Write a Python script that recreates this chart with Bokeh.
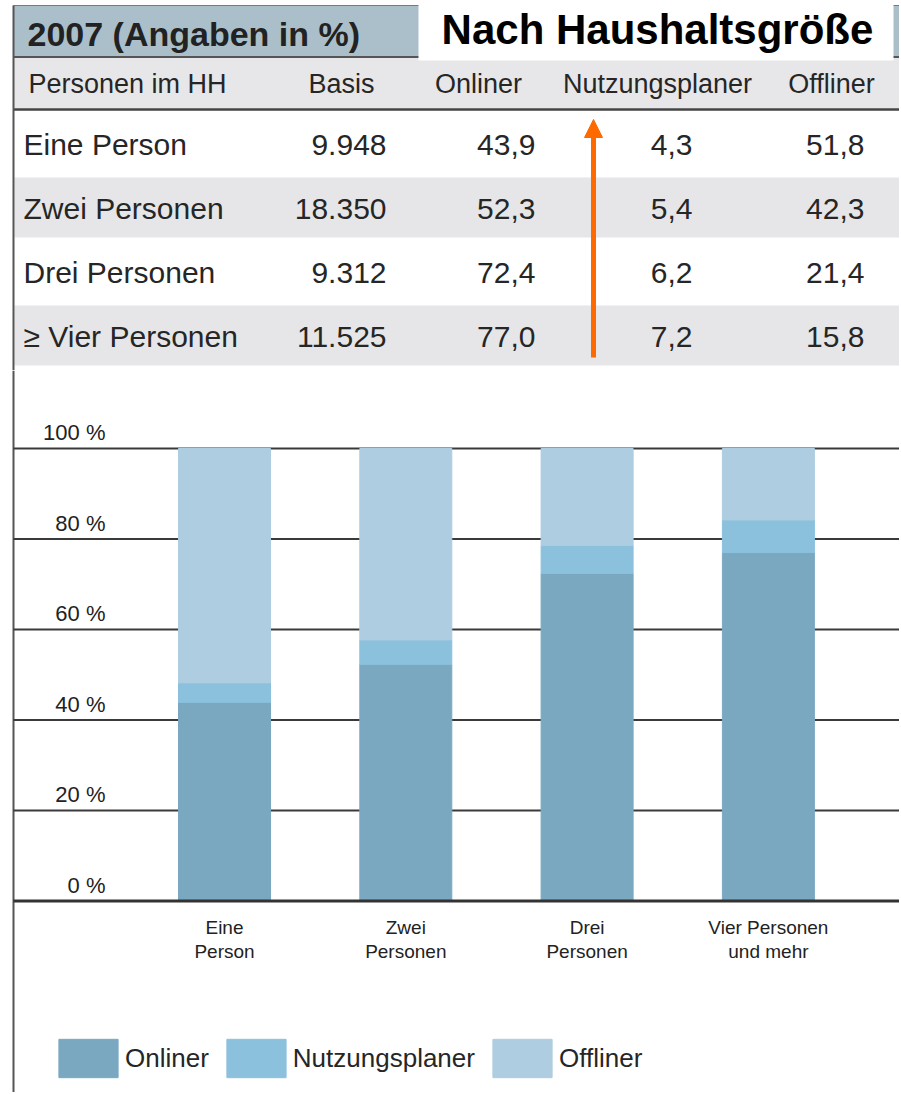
from bokeh.plotting import figure
from bokeh.models import Range1d, ColumnDataSource, Legend, LegendItem, Arrow, NormalHead
from bokeh.layouts import column
from bokeh.embed import file_html
from bokeh.resources import INLINE
from bokeh.core.properties import value

# ---------------- data ----------------
title = "Nach Haushaltsgröße"
subtitle = "2007 (Angaben in %)"
columns = ["Personen im HH", "Basis", "Onliner", "Nutzungsplaner", "Offliner"]
categories = ["Eine Person", "Zwei Personen", "Drei Personen", "≥ Vier Personen"]
chart_labels = ["Eine\nPerson", "Zwei\nPersonen", "Drei\nPersonen", "Vier Personen\nund mehr"]
basis = [9948, 18350, 9312, 11525]
onliner = [43.9, 52.3, 72.4, 77.0]
nutzungsplaner = [4.3, 5.4, 6.2, 7.2]
offliner = [51.8, 42.3, 21.4, 15.8]
y_ticks = [0, 20, 40, 60, 80, 100]
series_names = ["Onliner", "Nutzungsplaner", "Offliner"]
series_colors = ["#7ba8c1", "#8bc1dd", "#aecde0"]

FONT_NAME = "Liberation Sans"
FONT = value(FONT_NAME)
TXT = "#262626"
W = 899
XR = 899          # right edge of the page area in page pixels
TOP_H = 370
BOT_END = 1092


def fmt_int(v):
    return f"{v:,}".replace(",", ".")


def fmt_pct(v):
    return f"{v:.1f}".replace(".", ",")


def clean(p):
    p.background_fill_color = "white"
    p.border_fill_color = "white"
    p.xgrid.visible = False
    p.ygrid.visible = False


# ---------------- table (layout in page pixels, y down) ----------------
top = figure(width=W, height=TOP_H, x_range=Range1d(0, XR), y_range=Range1d(TOP_H, 0),
             toolbar_location=None, output_backend="svg", min_border=0,
             x_axis_location=None, y_axis_location=None, outline_line_color=None)
clean(top)

# header bar
top.quad(left=[13], right=[XR + 2], top=[5], bottom=[56], fill_color="#aabfca",
         line_color="#6d7d86", line_width=1)
top.quad(left=[13], right=[XR + 2], top=[57], bottom=[108], fill_color="#e7e7e9", line_color=None)
top.segment(x0=[13], x1=[XR], y0=[56.5], y1=[56.5], line_color="#555555", line_width=2)
top.segment(x0=[13], x1=[XR], y0=[109], y1=[109], line_color="#444444", line_width=2.5)

# striped rows
row_y = [144 + 64 * i for i in range(len(categories))]
grey_rows = [y for i, y in enumerate(row_y) if i % 2 == 1]
top.quad(left=[14] * len(grey_rows), right=[XR] * len(grey_rows),
         top=[y - 31 for y in grey_rows], bottom=[y + 29 for y in grey_rows],
         fill_color="#e6e6e8", line_color=None)

# left vertical line
top.segment(x0=[13], x1=[13], y0=[5], y1=[TOP_H], line_color="#555555", line_width=2)

# white title box
top.quad(left=[418], right=[893], top=[0], bottom=[60], fill_color="white", line_color=None)
top.text(x=[657], y=[29], text=[title], text_font=FONT, text_font_style="bold",
         text_font_size="42px", text_align="center", text_baseline="middle", text_color="black")
top.text(x=[27], y=[33], text=[subtitle], text_font=FONT, text_font_style="bold",
         text_font_size="34px", text_align="left", text_baseline="middle", text_color="#222222")

# column headers
hdr_x = [28, 341, 478, 657, 831]
hdr_align = ["left", "center", "center", "center", "center"]
for t, x, a in zip(columns, hdr_x, hdr_align):
    top.text(x=[x], y=[83], text=[t], text_font=FONT, text_font_size="27px",
             text_align=a, text_baseline="middle", text_color=TXT)

# table body
src = ColumnDataSource(dict(
    y=row_y,
    cat=categories,
    basis=[fmt_int(v) for v in basis],
    on=[fmt_pct(v) for v in onliner],
    nu=[fmt_pct(v) for v in nutzungsplaner],
    off=[fmt_pct(v) for v in offliner],
))
top.text(x=23, y="y", text="cat", source=src, text_font=FONT, text_font_size="30px",
         text_align="left", text_baseline="middle", text_color=TXT)
for field, xr in [("basis", 386), ("on", 535), ("nu", 692), ("off", 864)]:
    top.text(x=xr, y="y", text=field, source=src, text_font=FONT, text_font_size="30px",
             text_align="right", text_baseline="middle", text_color=TXT)

# orange arrow
top.add_layout(Arrow(x_start=593, y_start=357, x_end=593, y_end=119,
                     line_color="#ff6a00", line_width=5,
                     end=NormalHead(size=18, fill_color="#ff6a00", line_color="#ff6a00")))

# ---------------- stacked bar chart ----------------
Y0, S = 900.5, 4.525       # page y of 0 %, pixels per percent
X0, DX = 224.0, 181.3      # page x of first bar centre, pixels per category


def px2x(px):
    return (px - X0) / DX


def py2y(py):
    return (Y0 - py) / S


bot = figure(width=W, height=BOT_END - TOP_H, x_range=Range1d(px2x(0), px2x(XR)),
             y_range=Range1d(py2y(BOT_END), py2y(TOP_H)),
             toolbar_location=None, output_backend="svg", min_border=0,
             x_axis_location=None, y_axis_location=None, outline_line_color=None)
clean(bot)

# left vertical line
bot.segment(x0=[px2x(13)], x1=[px2x(13)], y0=[py2y(TOP_H)], y1=[py2y(BOT_END)],
            line_color="#555555", line_width=2)

# gridlines
grid_t = [t for t in y_ticks if t != 0]
bot.segment(x0=[px2x(13)] * len(grid_t), x1=[px2x(XR)] * len(grid_t), y0=grid_t, y1=grid_t,
            line_color="#3a3a3a", line_width=2)

bsrc = ColumnDataSource(dict(x=list(range(len(categories))), Onliner=onliner,
                             Nutzungsplaner=nutzungsplaner, Offliner=offliner))
rs = bot.vbar_stack(series_names, x="x", width=92 / DX, source=bsrc, color=series_colors)

# baseline
bot.segment(x0=[px2x(13)], x1=[px2x(XR)], y0=[0], y1=[0], line_color="#333333", line_width=3)

# y tick labels
bot.text(x=[px2x(105)] * len(y_ticks), y=y_ticks, text=[f"{t} %" for t in y_ticks],
         text_font=FONT, text_font_size="22px", text_align="right",
         text_baseline="alphabetic", y_offset=-16, text_color="#222222")

# category labels
bot.text(x=list(range(len(categories))), y=[0] * len(categories), text=chart_labels,
         text_font=FONT, text_font_size="19px", text_align="center",
         text_baseline="top", y_offset=16, text_line_height=1.15, text_color="#222222")

legend = Legend(items=[LegendItem(label=n, renderers=[r]) for n, r in zip(series_names, rs)],
                orientation="horizontal", location=(51, BOT_END - 1082), glyph_width=74, glyph_height=48,
                label_standoff=0, spacing=10, padding=0, margin=0,
                border_line_alpha=0, background_fill_alpha=0,
                label_text_font=FONT_NAME, label_text_font_size="26px", label_text_color=TXT)
bot.add_layout(legend)

layout = column(top, bot, spacing=0)
open("out.html", "w").write(file_html(layout, INLINE))
